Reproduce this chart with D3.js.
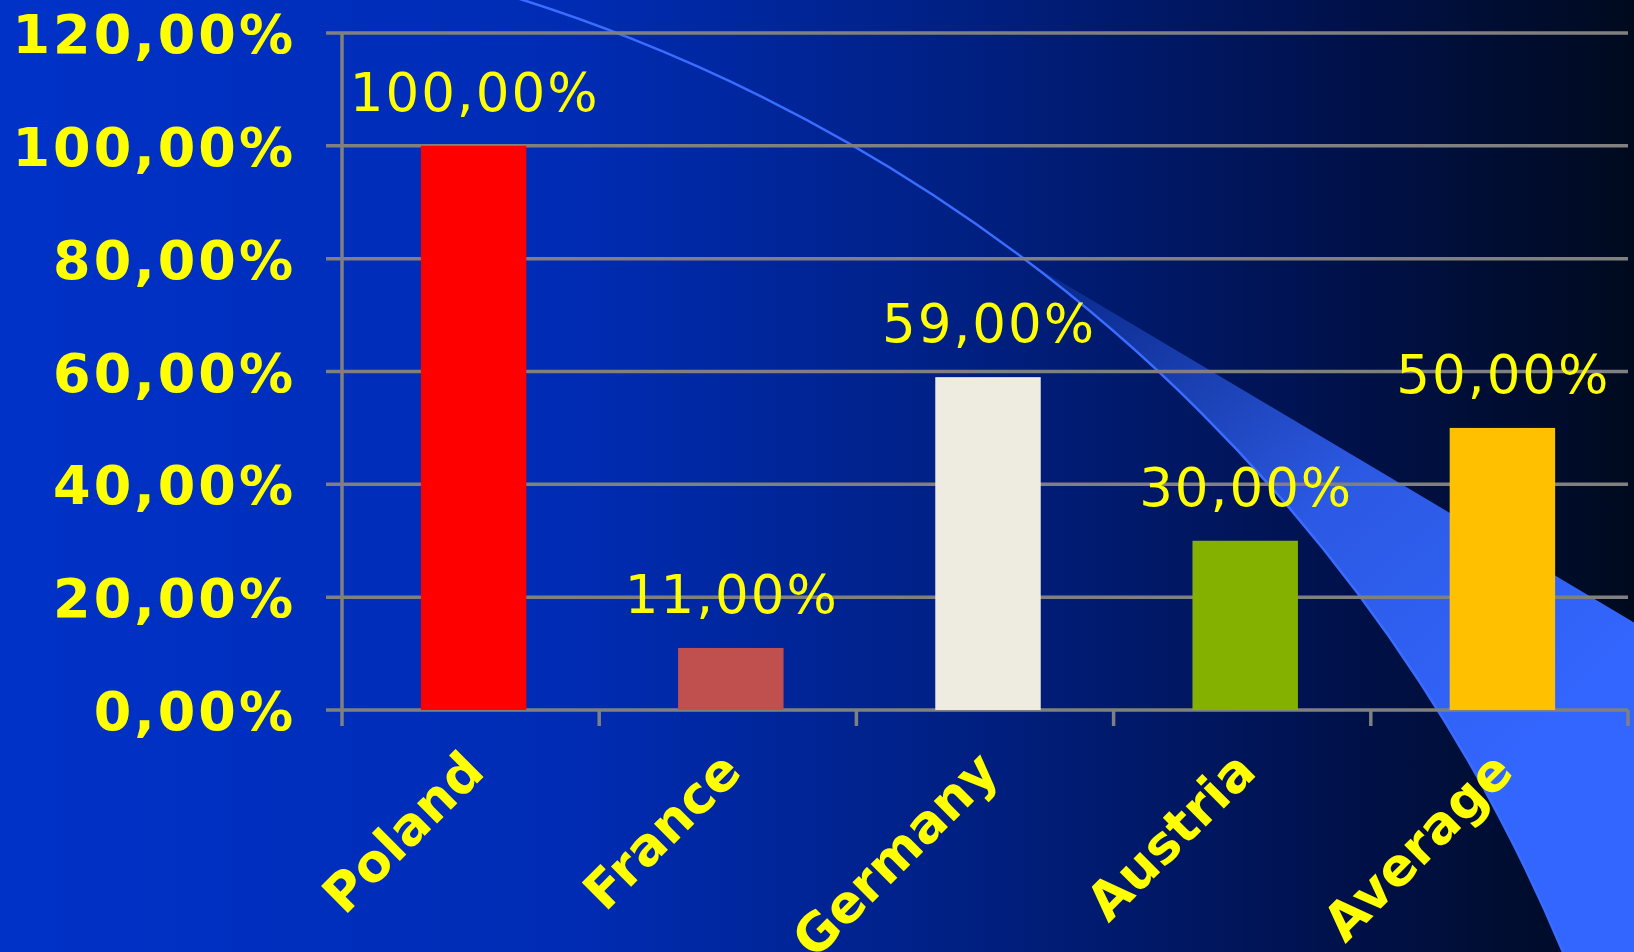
<!DOCTYPE html>
<html>
<head>
<meta charset="utf-8">
<script src="https://cdn.jsdelivr.net/npm/d3@7"></script>
<style>
  html, body { margin: 0; padding: 0; background: #000; }
  svg { display: block; }
</style>
</head>
<body>
<svg id="chart" width="1634" height="952"></svg>
<script>
// Share of respondents per country
const categories = ["Poland", "France", "Germany", "Austria", "Average"];
const values = [1.00, 0.11, 0.59, 0.30, 0.50];
const barColors = ["#ff0000", "#c0504d", "#eeece1", "#84b100", "#ffc000"];
const yTicks = [0, 0.2, 0.4, 0.6, 0.8, 1.0, 1.2];

const W = 1634, H = 952;
const svg = d3.select("#chart");

// Comma decimal separator for the percentages
const locale = d3.formatLocale({ decimal: ",", thousands: ".", grouping: [3], currency: ["", " €"], percent: "%" });
const pct = locale.format(".2%");

const x = d3.scaleBand().domain(categories).range([342, 1628]).padding(0);
const y = d3.scaleLinear().domain([0, 1.2]).range([710, 33]);
const barW = x.bandwidth() * 0.41;

const defs = svg.append("defs");

// Slide background: bright blue on the left fading to near black on the right
const bg = defs.append("linearGradient").attr("id", "bg")
  .attr("x1", 0).attr("y1", 0).attr("x2", 1).attr("y2", 0);
[[0, "#0032c8"], [0.35, "#002cb4"], [0.6, "#001f80"], [0.8, "#001250"], [1, "#000a1e"]]
  .forEach(([o, c]) => bg.append("stop").attr("offset", o).attr("stop-color", c));

const sw = defs.append("linearGradient").attr("id", "swoosh")
  .attr("gradientUnits", "userSpaceOnUse")
  .attr("x1", 1021).attr("y1", 258).attr("x2", 1520).attr("y2", 760);
sw.append("stop").attr("offset", 0).attr("stop-color", "#3366ff").attr("stop-opacity", 0.12);
sw.append("stop").attr("offset", 0.55).attr("stop-color", "#3366ff").attr("stop-opacity", 0.85);
sw.append("stop").attr("offset", 1).attr("stop-color", "#3366ff").attr("stop-opacity", 1);

svg.append("rect").attr("width", W).attr("height", H).attr("fill", "url(#bg)");

// Decorative sweep: a large circle arc with a lighter band outside it
const sweep = { cx: 14, cy: 1600, r: 1679 };
const ring = d3.path();
ring.moveTo(sweep.cx + sweep.r, sweep.cy);
ring.arc(sweep.cx, sweep.cy, sweep.r, 0, 2 * Math.PI);
ring.closePath();

defs.append("clipPath").attr("id", "outsideRing").append("path")
  .attr("clip-rule", "evenodd")
  .attr("d", "M-200,-200H1840V1160H-200Z" + ring.toString());

svg.append("g").attr("clip-path", "url(#outsideRing)")
  .append("path")
  .attr("d", "M1021,258L1640,626L1640,970L900,970L900,258Z")
  .attr("fill", "url(#swoosh)");

svg.append("path").attr("d", ring.toString()).attr("fill", "none")
  .attr("stroke", "#3a6cff").attr("stroke-width", 2.5);

// Horizontal gridlines with outward ticks
const grid = "#808080";
svg.append("g").selectAll("line").data(yTicks).join("line")
  .attr("x1", 326).attr("x2", 1628)
  .attr("y1", d => y(d)).attr("y2", d => y(d))
  .attr("stroke", grid).attr("stroke-width", 3.5);

// Axes
svg.append("line").attr("x1", 342).attr("x2", 342).attr("y1", y(1.2)).attr("y2", y(0))
  .attr("stroke", grid).attr("stroke-width", 3.5);
const xEdges = categories.map(c => x(c)).concat([x.range()[1]]);
svg.append("g").selectAll("line").data(xEdges).join("line")
  .attr("x1", d => d).attr("x2", d => d).attr("y1", y(0)).attr("y2", y(0) + 16)
  .attr("stroke", grid).attr("stroke-width", 3.5);

// Y tick labels
svg.append("g").selectAll("text").data(yTicks).join("text")
  .attr("x", 296).attr("y", d => y(d) + 20)
  .attr("text-anchor", "end")
  .attr("font-family", "DejaVu Sans, Verdana, sans-serif")
  .attr("font-weight", "bold").attr("font-size", 54).attr("letter-spacing", 3)
  .attr("fill", "#ffff00")
  .text(d => pct(d));

// Bars
svg.append("g").selectAll("rect").data(values).join("rect")
  .attr("x", (d, i) => x(categories[i]) + (x.bandwidth() - barW) / 2 + 3)
  .attr("y", d => y(d))
  .attr("width", barW)
  .attr("height", d => y(0) - y(d))
  .attr("fill", (d, i) => barColors[i]);

// Value labels
svg.append("g").selectAll("text").data(values).join("text")
  .attr("x", (d, i) => x(categories[i]) + x.bandwidth() / 2 + 4)
  .attr("y", d => y(d) - 35)
  .attr("text-anchor", "middle")
  .attr("font-family", "DejaVu Sans, Verdana, sans-serif")
  .attr("font-size", 53).attr("letter-spacing", 2)
  .attr("fill", "#ffff00")
  .text(d => pct(d));

// Rotated category labels
svg.append("g").selectAll("text").data(categories).join("text")
  .attr("transform", d => `translate(${x(d) + x.bandwidth() / 2 + 16},${y(0) + 64}) rotate(-45)`)
  .attr("text-anchor", "end")
  .attr("font-family", "DejaVu Sans, Verdana, sans-serif")
  .attr("font-weight", "bold").attr("font-size", 52)
  .attr("fill", "#ffff00")
  .text(d => d);
</script>
</body>
</html>
